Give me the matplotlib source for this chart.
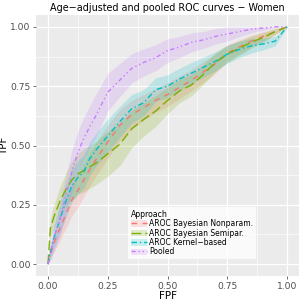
import numpy as np
import matplotlib
matplotlib.use("Agg")
import matplotlib.pyplot as plt
from matplotlib.patches import Patch
from matplotlib.lines import Line2D

# common FPF grid and curves
fpf = [0, 0.01, 0.025, 0.05, 0.075, 0.1, 0.125, 0.15, 0.175, 0.2, 0.25, 0.3, 0.35,
       0.4, 0.45, 0.5, 0.55, 0.6, 0.65, 0.7, 0.75, 0.8, 0.85, 0.9, 0.95, 1.0]

tpf_nonparam = [0, 0.04, 0.09, 0.15, 0.21, 0.27, 0.31, 0.355, 0.40, 0.44, 0.515, 0.585, 0.63,
                0.66, 0.69, 0.715, 0.745, 0.775, 0.81, 0.845, 0.89, 0.915, 0.94, 0.96, 0.98, 1.0]
hw_nonparam = [0, 0.02, 0.04, 0.05, 0.06, 0.065, 0.07, 0.07, 0.07, 0.07, 0.07, 0.065, 0.06,
               0.055, 0.05, 0.05, 0.048, 0.045, 0.045, 0.04, 0.035, 0.03, 0.025, 0.02, 0.012, 0]

tpf_semipar = [0, 0.15, 0.20, 0.265, 0.315, 0.355, 0.38, 0.395, 0.41, 0.425, 0.465, 0.505, 0.57,
               0.61, 0.645, 0.69, 0.73, 0.755, 0.80, 0.85, 0.885, 0.91, 0.935, 0.955, 0.98, 1.0]
hw_semipar = [0, 0.04, 0.05, 0.06, 0.07, 0.08, 0.085, 0.09, 0.09, 0.09, 0.095, 0.09, 0.08,
              0.07, 0.065, 0.055, 0.05, 0.045, 0.042, 0.04, 0.035, 0.03, 0.025, 0.02, 0.012, 0]

tpf_kernel = [0, 0.05, 0.11, 0.19, 0.265, 0.33, 0.365, 0.39, 0.445, 0.48, 0.54, 0.60, 0.655,
              0.68, 0.735, 0.75, 0.78, 0.805, 0.83, 0.855, 0.885, 0.905, 0.92, 0.928, 0.94, 1.0]
hw_kernel = [0, 0.02, 0.04, 0.06, 0.07, 0.07, 0.07, 0.07, 0.07, 0.07, 0.07, 0.065, 0.06,
             0.055, 0.05, 0.048, 0.046, 0.045, 0.042, 0.04, 0.038, 0.035, 0.03, 0.025, 0.02, 0]

tpf_pooled = [0, 0.05, 0.11, 0.19, 0.29, 0.39, 0.47, 0.53, 0.58, 0.625, 0.725, 0.775, 0.825,
              0.85, 0.87, 0.90, 0.915, 0.935, 0.945, 0.96, 0.97, 0.98, 0.99, 0.995, 1.0, 1.0]
hw_pooled = [0, 0.035, 0.055, 0.07, 0.08, 0.09, 0.09, 0.09, 0.09, 0.09, 0.08, 0.07, 0.062,
             0.057, 0.055, 0.05, 0.045, 0.04, 0.036, 0.033, 0.03, 0.022, 0.015, 0.01, 0.005, 0]

labels = ["AROC Bayesian Nonparam.", "AROC Bayesian Semipar.", "AROC Kernel\u2212based", "Pooled"]
colors = ["#F8766D", "#7CAE00", "#00BFC4", "#C77CFF"]
dashes = [(4, 4), (7, 3), (4, 2, 1, 2), (3, 2, 1, 2, 1, 2)]
curves = [tpf_nonparam, tpf_semipar, tpf_kernel, tpf_pooled]
widths = [hw_nonparam, hw_semipar, hw_kernel, hw_pooled]

fig = plt.figure(figsize=(3, 3), dpi=100)
ax = fig.add_axes([0.12, 0.08, 0.877, 0.87])
ax.set_facecolor("#EBEBEB")

x = np.array(fpf)
handles = []
for lab, col, ds, y, hw in zip(labels, colors, dashes, curves, widths):
    y = np.array(y)
    hw = np.array(hw)
    ax.fill_between(x, np.clip(y - hw, 0, 1), np.clip(y + hw, 0, 1),
                    color=col, alpha=0.2, linewidth=0)
    ax.plot(x, y, color=col, lw=1.0, dashes=ds)
    handles.append((Patch(facecolor=col, alpha=0.2, linewidth=0),
                    Line2D([], [], color=col, lw=1.0, dashes=ds)))

ax.set_xlim(-0.05, 1.05)
ax.set_ylim(-0.05, 1.05)
ticks = [0, 0.25, 0.5, 0.75, 1.0]
ax.set_xticks(ticks)
ax.set_yticks(ticks)
ax.set_xticklabels(["0.00", "0.25", "0.50", "0.75", "1.00"])
ax.set_yticklabels(["0.00", "0.25", "0.50", "0.75", "1.00"])
ax.set_xticks([0.125, 0.375, 0.625, 0.875], minor=True)
ax.set_yticks([0.125, 0.375, 0.625, 0.875], minor=True)
ax.grid(True, which="major", color="white", lw=0.9)
ax.grid(True, which="minor", color="white", lw=0.45)
ax.set_axisbelow(True)
for s in ax.spines.values():
    s.set_visible(False)
ax.tick_params(which="major", length=2.5, width=0.5, color="#333333",
               labelsize=6.6, labelcolor="#4D4D4D", pad=1.5)
ax.tick_params(which="minor", length=0)

ax.set_xlabel("FPF", fontsize=7.5, labelpad=0)
ax.set_ylabel("TPF", fontsize=7.5, labelpad=0.5)
ax.set_title("Age\u2212adjusted and pooled ROC curves \u2212 Women", fontsize=6.9, pad=3)

leg = ax.legend(handles, labels, loc="lower left", bbox_to_anchor=(0.35, 0.065),
                title="Approach", fontsize=5.5, title_fontsize=5.6, frameon=True,
                fancybox=False, handlelength=2.1, handleheight=0.9, handletextpad=0.3,
                labelspacing=0.05, borderpad=0.35, borderaxespad=0)
leg._legend_box.align = "left"
leg.get_frame().set_edgecolor("white")
leg.get_frame().set_linewidth(0)

fig.savefig("out.png", dpi=100)
